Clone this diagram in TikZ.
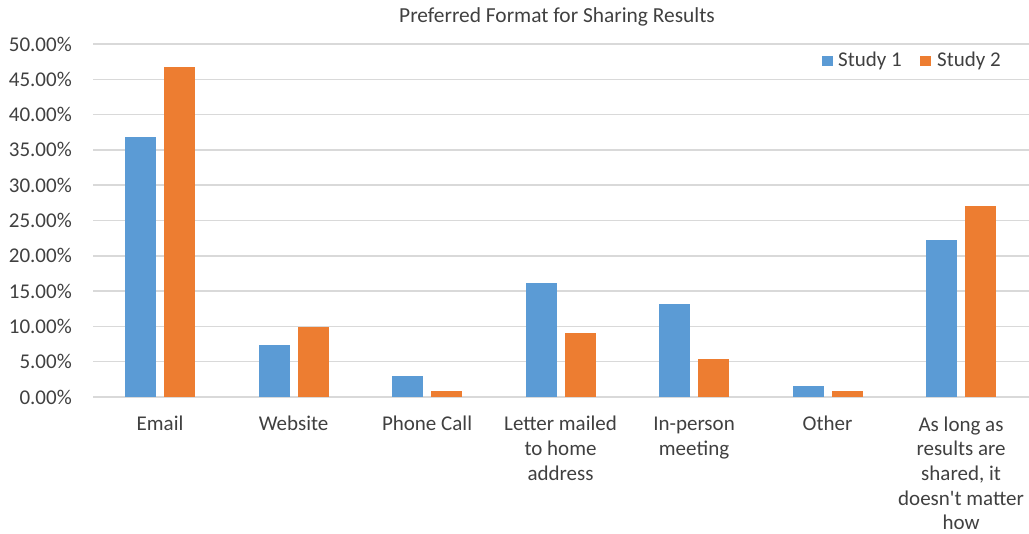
\documentclass[tikz,border=0pt]{standalone}
\usepackage{fontspec}
\setmainfont{Carlito}[Ligatures=TeXOff]
\definecolor{sblue}{HTML}{5B9BD5}
\definecolor{sorange}{HTML}{ED7D31}
\definecolor{gridc}{HTML}{D9D9D9}
\definecolor{txt}{HTML}{404040}
\begin{document}
\begin{tikzpicture}[x=1pt,y=-1pt,
  ticklabel/.style={anchor=east,inner sep=0pt,text=txt,font=\fontsize{21}{25}\selectfont},
  catlabel/.style={anchor=base,inner sep=0pt,text=txt,align=center,font=\fontsize{21}{24.75}\selectfont},
  legtext/.style={anchor=west,inner sep=0pt,text=txt,font=\fontsize{21}{25}\selectfont},
  gridline/.style={draw=gridc,line width=1.5pt},
  bluebar/.style={fill=sblue},
  orangebar/.style={fill=sorange}]
\useasboundingbox (0,0) rectangle (1029,534);
% gridlines and tick labels
\foreach \v/\lab in {0/0.00\%,5/5.00\%,10/10.00\%,15/15.00\%,20/20.00\%,25/25.00\%,30/30.00\%,35/35.00\%,40/40.00\%,45/45.00\%,50/50.00\%}{
  \pgfmathsetmacro{\yy}{397-\v*7.06}
  \coordinate (gl\v) at (93,\yy);
  \coordinate (gr\v) at (1029,\yy);
  \draw[gridline] (gl\v) -- (gr\v);
  \node[ticklabel] (tick\v) at (72,\yy) {\lab};
}
% bars
\foreach \i/\b/\o in {0/36.8/46.7,1/7.4/9.95,2/3.0/0.85,3/16.1/9.1,4/13.2/5.4,5/1.55/0.85,6/22.2/27.05}{
  \pgfmathsetmacro{\c}{93.3+133.5*(\i+0.5)}
  \pgfmathsetmacro{\yb}{397-\b*7.06}
  \pgfmathsetmacro{\yo}{397-\o*7.06}
  \fill[bluebar] (\c-35,397) rectangle (\c-4,\yb);
  \fill[orangebar] (\c+4,397) rectangle (\c+35,\yo);
}
% category labels (base anchor = last line's baseline; first baseline at y=431, line step 24.75)
\node[catlabel] (cat0) at (160.05,431) {Email};
\node[catlabel] (cat1) at (293.55,431) {Website};
\node[catlabel] (cat2) at (427.05,431) {Phone Call};
\node[catlabel] (cat3) at (560.55,480.5) {Letter mailed\\to home\\address};
\node[catlabel] (cat4) at (694.05,455.75) {In-person\\meeting};
\node[catlabel] (cat5) at (827.55,431) {Other};
\node[catlabel] (cat6) at (961.05,530) {As long as\\results are\\shared, it\\doesn't matter\\how};
% title
\node[anchor=base,inner sep=0pt,text=txt,font=\fontsize{21.4}{25}\selectfont] (title) at (557,22.3) {Preferred Format for Sharing Results};
% legend
\fill[bluebar] (822,56.5) rectangle (833,66.5);
\node[legtext] (leg1) at (838,61) {Study 1};
\fill[orangebar] (920,56.5) rectangle (931,66.5);
\node[legtext] (leg2) at (937,61) {Study 2};
\end{tikzpicture}
\end{document}
